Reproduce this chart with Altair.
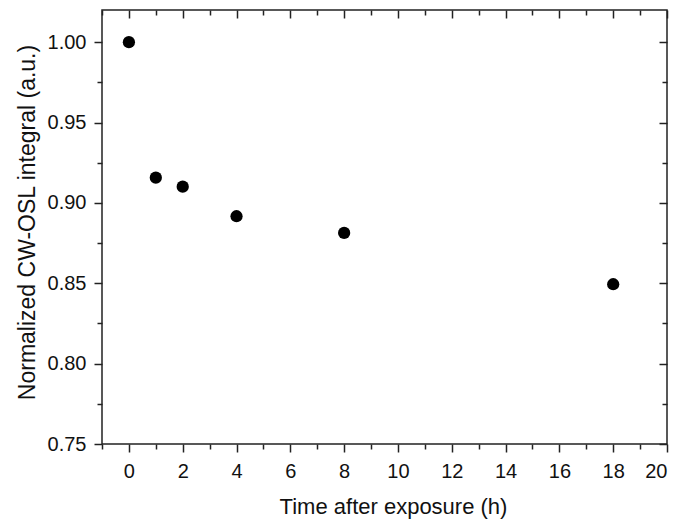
import altair as alt
import pandas as pd

# Data
time_h = [0, 1, 2, 4, 8, 18]
norm_osl = [1.000, 0.9157, 0.9101, 0.8917, 0.8813, 0.8494]

x_major = [0, 2, 4, 6, 8, 10, 12, 14, 16, 18, 20]
x_minor = [-1, 1, 3, 5, 7, 9, 11, 13, 15, 17, 19]
y_major = [0.75, 0.80, 0.85, 0.90, 0.95, 1.00]
y_minor = [0.775, 0.825, 0.875, 0.925, 0.975]

df = pd.DataFrame({"t": time_h, "v": norm_osl})

W, H = 565, 434
FONT = "Liberation Sans"
AX = "#222222"

xs = alt.Scale(domain=[-1, 20], nice=False, zero=False)
ys = alt.Scale(domain=[0.75, 1.02], nice=False, zero=False)

common = dict(grid=False, domain=False, tickColor=AX, tickWidth=1.5,
              labelFont=FONT, titleFont=FONT, labelColor="#111111",
              titleColor="#111111", labelFontSize=20,
              titleFontWeight="normal")

base = alt.Chart(df)

points = base.mark_circle(size=150, color="black", opacity=1).encode(
    x=alt.X("t:Q", scale=xs, axis=alt.Axis(
        orient="bottom", values=x_major, format="d", tickSize=8,
        labelPadding=9, title="Time after exposure (h)",
        titleFontSize=22, titleX=291, titleY=52, titleBaseline="top",
        **common)),
    y=alt.Y("v:Q", scale=ys, axis=alt.Axis(
        orient="left", values=y_major, format=".2f", tickSize=8,
        labelPadding=8, title="Normalized CW-OSL integral (a.u.)",
        titlePadding=8, titleFontSize=23, titleY=212, **common)),
)

def ghost(xaxis, yaxis):
    return base.mark_circle(opacity=0).encode(
        x=alt.X("t:Q", scale=xs, axis=xaxis),
        y=alt.Y("v:Q", scale=ys, axis=yaxis),
    )

noLab = dict(labels=False, title=None)

minor_bl = ghost(
    alt.Axis(orient="bottom", values=x_minor, tickSize=5, **noLab, **common),
    alt.Axis(orient="left", values=y_minor, tickSize=5, **noLab, **common),
)

major_tr = ghost(
    alt.Axis(orient="bottom", offset=-H, values=x_major, tickSize=8, **noLab,
             **common),
    alt.Axis(orient="left", offset=-W, values=y_major, tickSize=8, **noLab,
             **common),
)

minor_tr = ghost(
    alt.Axis(orient="bottom", offset=-H, values=x_minor, tickSize=5, **noLab,
             **common),
    alt.Axis(orient="left", offset=-W, values=y_minor, tickSize=5, **noLab,
             **common),
)

chart = alt.layer(points, minor_bl, major_tr, minor_tr).resolve_axis(
    x="independent", y="independent"
).properties(
    width=W, height=H,
    autosize=alt.AutoSizeParams(type="none"),
    padding={"left": 94, "top": 2, "right": 7, "bottom": 75},
).configure_view(
    stroke=AX, strokeWidth=1.5
)

chart.save("out.html", embed_options={"renderer": "svg", "actions": False})
